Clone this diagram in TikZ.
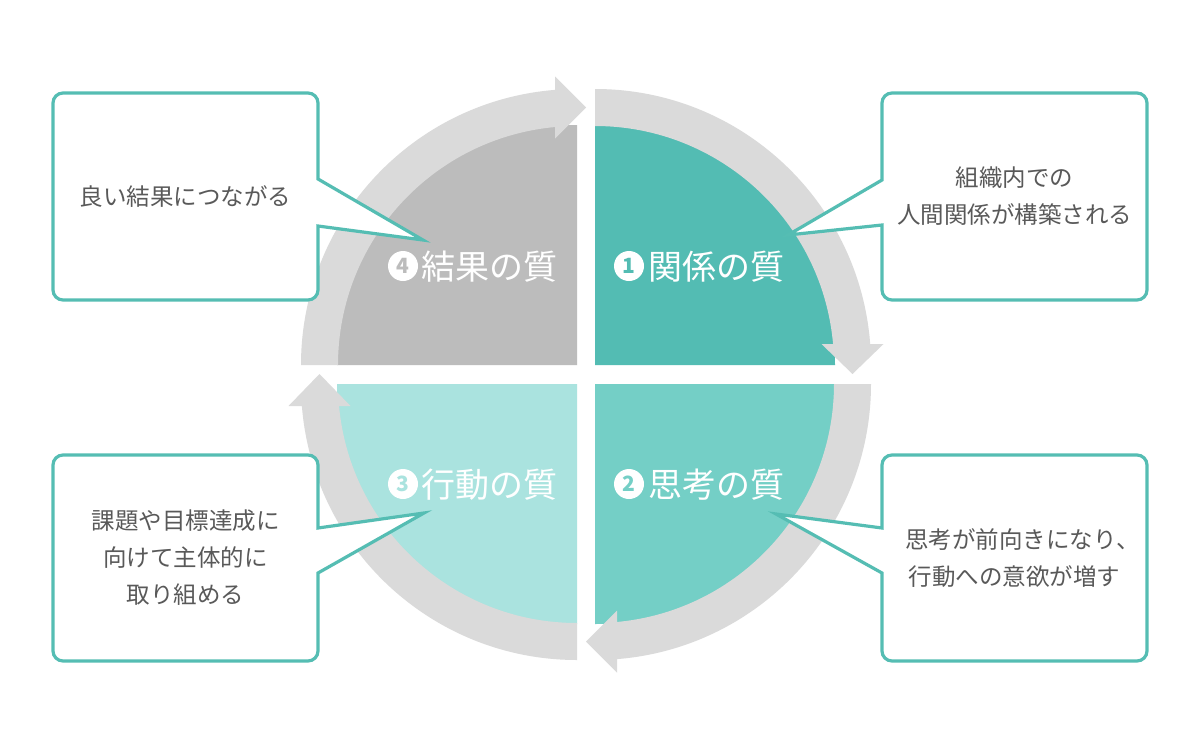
\documentclass[tikz,border=0pt]{standalone}
\usepackage{fontspec}
\setmainfont{Noto Sans CJK JP}
\definecolor{ringgray}{HTML}{DADADA}
\definecolor{qfour}{HTML}{BCBCBC}
\definecolor{qone}{HTML}{53BCB3}
\definecolor{qtwo}{HTML}{74CFC6}
\definecolor{qthree}{HTML}{AAE3DF}
\definecolor{edge}{HTML}{55BDB3}
\definecolor{txtgray}{HTML}{595959}
\tikzset{
  callout/.style={draw=edge, line width=3.2pt, fill=white},
  boxtext/.style={font=\fontsize{23.5}{37}\selectfont, text=txtgray, align=center, inner sep=0pt},
  qlabel/.style={font=\fontsize{34}{34}\selectfont, text=white, inner sep=0pt, anchor=west, text height=27.5pt, text depth=2.5pt},
  qdisc/.style={fill=white},
  qdigit/.style={inner sep=0pt, font=\fontsize{21}{21}\selectfont\bfseries}
}
\begin{document}
\begin{tikzpicture}[x=1pt,y=1pt]
\useasboundingbox (0,0) rectangle (1200,-750);
\fill[white] (0,0) rectangle (1200,-750);

% quadrant 1 (top right)
\begin{scope}[shift={(595,-365)}]
  \fill[qone] (0,0) -- (90:240) arc[start angle=90,end angle=0,radius=240] -- cycle;
  \fill[ringgray] (90:239) -- (90:276) arc[start angle=90,end angle=3.947,radius=276] -- (4.56:239) arc[start angle=4.56,end angle=90,radius=239] -- cycle;
  \fill[ringgray] (226.5,21) -- (288.5,21) -- (257.5,-9) -- cycle;
\end{scope}
% quadrant 2 (bottom right)
\begin{scope}[shift={(595,-384)}]
  \fill[qtwo] (0,0) -- (0:240) arc[start angle=0,end angle=-90,radius=240] -- cycle;
  \fill[ringgray] (0:239) -- (0:276) arc[start angle=0,end angle=-85.845,radius=276] -- (-85.20:239) arc[start angle=-85.20,end angle=0,radius=239] -- cycle;
  \fill[ringgray] (22,-226.5) -- (22,-288.5) -- (-9,-257.5) -- cycle;
\end{scope}
% quadrant 3 (bottom left)
\begin{scope}[shift={(577,-384)}]
  \fill[qthree] (0,0) -- (270:240) arc[start angle=270,end angle=180,radius=240] -- cycle;
  \fill[ringgray] (270:239) -- (270:276) arc[start angle=270,end angle=184.155,radius=276] -- (184.80:239) arc[start angle=184.80,end angle=270,radius=239] -- cycle;
  \fill[ringgray] (-288.5,-22) -- (-226.5,-22) -- (-257.5,10) -- cycle;
\end{scope}
% quadrant 4 (top left)
\begin{scope}[shift={(577,-365)}]
  \fill[qfour] (0,0) -- (180:240) arc[start angle=180,end angle=90,radius=240] -- cycle;
  \fill[ringgray] (180:239) -- (180:276) arc[start angle=180,end angle=94.155,radius=276] -- (94.80:239) arc[start angle=94.80,end angle=180,radius=239] -- cycle;
  \fill[ringgray] (-22,288.5) -- (9,257.5) -- (-22,226.5) -- cycle;
\end{scope}

% quadrant labels
\fill[qdisc] (629,-266) circle[radius=15];
\node[qdigit, text=qone] (n1) at (629,-266) {1};
\node[qlabel] (l1) at (648,-267) {関係の質};
\fill[qdisc] (629,-484) circle[radius=15];
\node[qdigit, text=qtwo] (n2) at (629,-484) {2};
\node[qlabel] (l2) at (648,-485) {思考の質};
\fill[qdisc] (403,-484) circle[radius=15];
\node[qdigit, text=qthree] (n3) at (403,-484) {3};
\node[qlabel] (l3) at (421,-485) {行動の質};
\fill[qdisc] (403,-266) circle[radius=15];
\node[qdigit, text=qfour] (n4) at (403,-266) {4};
\node[qlabel] (l4) at (421,-267) {結果の質};

% callouts
\draw[callout] (63,-93) -- (308,-93) arc[start angle=90,end angle=0,radius=10] -- (318,-179) -- (423,-240) -- (318,-226) -- (318,-290) arc[start angle=0,end angle=-90,radius=10] -- (63,-300) arc[start angle=270,end angle=180,radius=10] -- (53,-103) arc[start angle=180,end angle=90,radius=10] -- cycle;
\draw[callout] (892,-93) -- (1137,-93) arc[start angle=90,end angle=0,radius=10] -- (1147,-290) arc[start angle=0,end angle=-90,radius=10] -- (892,-300) arc[start angle=270,end angle=180,radius=10] -- (882,-225) -- (788,-235) -- (882,-180) -- (882,-103) arc[start angle=180,end angle=90,radius=10] -- cycle;
\draw[callout] (63,-455) -- (308,-455) arc[start angle=90,end angle=0,radius=10] -- (318,-528) -- (424,-513) -- (318,-573) -- (318,-651) arc[start angle=0,end angle=-90,radius=10] -- (63,-661) arc[start angle=270,end angle=180,radius=10] -- (53,-465) arc[start angle=180,end angle=90,radius=10] -- cycle;
\draw[callout] (892,-455) -- (1137,-455) arc[start angle=90,end angle=0,radius=10] -- (1147,-651) arc[start angle=0,end angle=-90,radius=10] -- (892,-661) arc[start angle=270,end angle=180,radius=10] -- (882,-573) -- (776,-514) -- (882,-528) -- (882,-465) arc[start angle=180,end angle=90,radius=10] -- cycle;

% callout texts
\node[boxtext] (t4) at (185.5,-196.5) {良い結果につながる};
\node[boxtext] (t1) at (1014.5,-196.5) {組織内での\\人間関係が構築される};
\node[boxtext] (t3) at (185.5,-558) {課題や目標達成に\\向けて主体的に\\取り組める};
\node[boxtext] (t2) at (1014.5,-558) {\hspace*{16pt}思考が前向きになり、\\行動への意欲が増す};
\end{tikzpicture}
\end{document}
